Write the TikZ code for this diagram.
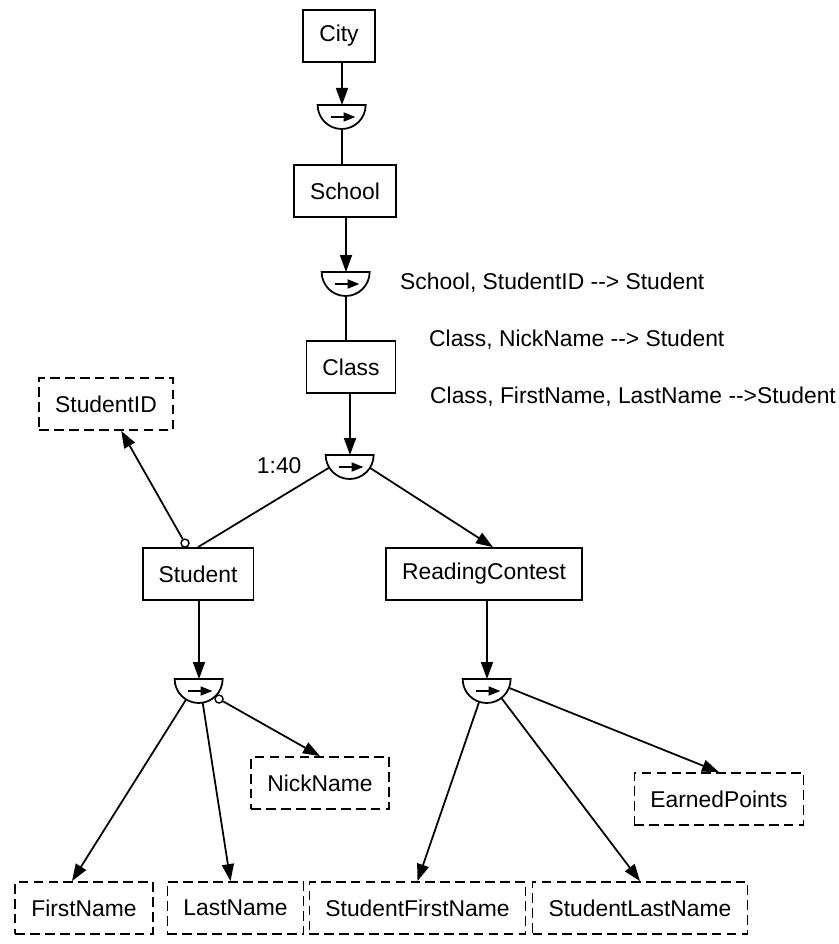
\documentclass[tikz,border=0pt]{standalone}
\usepackage{fontspec}
\setmainfont{Liberation Sans}
\usetikzlibrary{arrows.meta,positioning}

\begin{document}
\begin{tikzpicture}
    \tikzstyle{every node} = [font=\fontsize{13}{15}\selectfont]
    \tikzstyle{entity} = [draw, rectangle, line width=1pt, minimum height=1.04cm, inner xsep=0.32cm]
    \tikzstyle{attribute} = [entity, dash pattern=on 5.5pt off 3pt]
    \tikzstyle{fd} = [circle, minimum size=0.96cm, inner sep=0pt]
    \tikzstyle{optcirc} = [draw, circle, fill=white, line width=0.8pt, minimum size=0.16cm, inner sep=0pt]
    \tikzstyle{link} = [line width=1pt]
    \tikzstyle{arrowlink} = [link, -{Triangle[length=3.4mm,width=2.4mm]}]
    \useasboundingbox (0,0) rectangle (16.78,-18.88);
    % place nodes
    \node[entity](City) at (6.78,-0.72){City};
    \node[fd](fdCity) at (6.84,-2.10){};
    \node[entity](School) at (6.90,-3.82){School};
    \node[fd](fdSchool) at (6.92,-5.44){};
    \node[entity](Class) at (7.02,-7.34){Class};
    \node[fd](fdClass) at (7.00,-9.10){};
    \node[attribute](StudentID) at (2.12,-8.08){StudentID};
    \node[entity](Student) at (3.96,-11.48){Student};
    \node[entity](Contest) at (9.68,-11.48){ReadingContest};
    \node[fd](fdStudent) at (3.98,-13.58){};
    \node[fd](fdContest) at (9.74,-13.58){};
    \node[attribute](NickName) at (6.40,-15.66){NickName};
    \node[attribute](EarnedPoints) at (14.38,-15.98){EarnedPoints};
    \node[attribute](FirstName) at (1.68,-18.16){FirstName};
    \node[attribute](LastName) at (4.71,-18.16){LastName};
    \node[attribute](StudentFirstName) at (8.35,-18.16){StudentFirstName};
    \node[attribute](StudentLastName) at (12.80,-18.16){StudentLastName};
    \node[optcirc](optID) at ([xshift=-0.26cm,yshift=0.08cm]Student.north){};
    \node[optcirc](optNick) at ([shift={(-45:0.08cm)}]fdStudent.-45){};

    % dependency labels
    \node[anchor=west](keyA) at (7.88,-5.66){School, StudentID -{}-> Student};
    \node[anchor=west](keyB) at (8.46,-6.80){Class, NickName -{}-> Student};
    \node[anchor=west](keyC) at (8.48,-7.94){Class, FirstName, LastName -{}->Student};
    \node[left=0.36cm of fdClass.west,yshift=-0.22cm](card){1:40};

    % semicircles
    \foreach \fdn in {fdCity,fdSchool,fdClass,fdStudent,fdContest}{
        \draw[link,fill=white] (\fdn.west) arc[start angle=180,end angle=360,radius=0.48cm] -- cycle;
        \draw[link,-{Triangle[length=2.4mm,width=1.8mm]}] ([shift={(-0.23,-0.24)}]\fdn.center) -- ++(0.5,0);
    }

    % Connections
    \draw[arrowlink] (fdCity.center |- City.south) -- (fdCity.center);
    \draw[link] (fdCity.south) -- (fdCity.south |- School.north);
    \draw[arrowlink] (fdSchool.center |- School.south) -- (fdSchool.center);
    \draw[link] (fdSchool.south) -- (fdSchool.south |- Class.north);
    \draw[arrowlink] (fdClass.center |- Class.south) -- (fdClass.center);
    \draw[link] (fdClass) -- (Student.north);
    \draw[arrowlink] (fdClass) -- ([xshift=0.18cm]Contest.north);
    \draw[arrowlink] (optID) -- (StudentID);
    \draw[arrowlink] (fdStudent.center |- Student.south) -- (fdStudent.center);
    \draw[arrowlink] (fdStudent) -- ([xshift=-0.24cm]FirstName.north);
    \draw[arrowlink] (fdStudent) -- ([xshift=-0.1cm]LastName.north);
    \draw[arrowlink] (optNick) -- (NickName.north);
    \draw[arrowlink] (fdContest.center |- Contest.south) -- (fdContest.center);
    \draw[arrowlink] (fdContest) -- (StudentFirstName.north);
    \draw[arrowlink] (fdContest) -- (StudentLastName.north);
    \draw[arrowlink] (fdContest) -- (EarnedPoints.north);

\end{tikzpicture}
\end{document}
